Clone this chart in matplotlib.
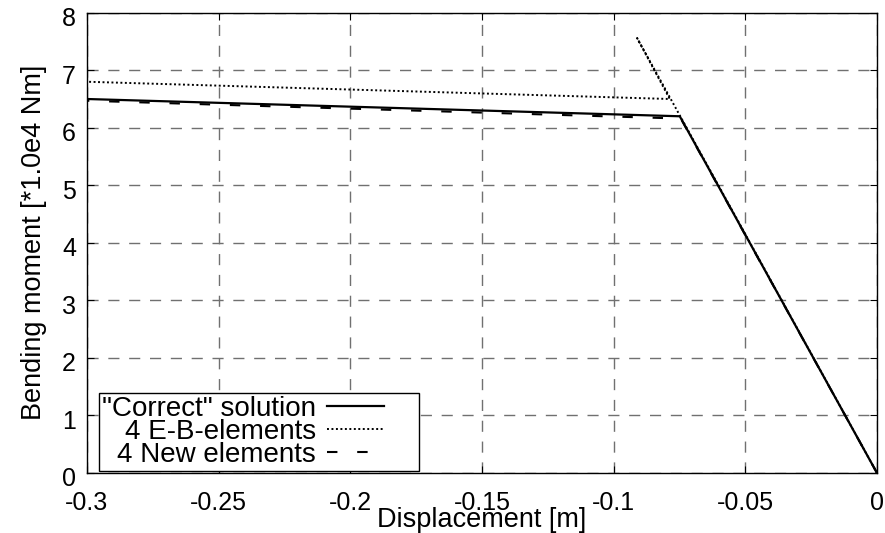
import numpy as np
import matplotlib.pyplot as plt
import matplotlib.transforms as mtransforms

# displacement [m] and bending moment [*1.0e4 Nm]
correct_x = [0.0, -0.0749, -0.3]
correct_y = [0.0, 6.2, 6.5]

eb_x = [0.0, -0.0911, -0.0787, -0.3]
eb_y = [0.0, 7.56, 6.5, 6.8]

new_x = [0.0, -0.0745, -0.3]
new_y = [0.0, 6.16, 6.47]

labels = ['"Correct" solution', '4 E-B-elements', '4 New elements']
x_ticks = [-0.3, -0.25, -0.2, -0.15, -0.1, -0.05, 0]
x_tick_labels = ['-0.3', '-0.25', '-0.2', '-0.15', '-0.1', '-0.05', '0']
y_ticks = [0, 1, 2, 3, 4, 5, 6, 7, 8]

plt.rcParams['font.family'] = ['Liberation Sans', 'DejaVu Sans']

fig = plt.figure(figsize=(8.85, 5.33), dpi=100)
ax = fig.add_axes([87 / 885, (533 - 473) / 533, 790 / 885, 460.3 / 533])

ax.plot(correct_x, correct_y, color='black', lw=1.6, label=labels[0], zorder=3)
ax.plot(eb_x, eb_y, color='black', lw=1.4, linestyle=(0, (1, 1.3)), label=labels[1], zorder=3)
ax.plot(new_x, new_y, color='black', lw=1.5, linestyle=(0, (5, 9.5)), label=labels[2], zorder=3)

ax.set_xlim(-0.3, 0)
ax.set_ylim(0, 8)
ax.set_xticks(x_ticks)
ax.set_xticklabels(x_tick_labels)
ax.set_yticks(y_ticks)
ax.grid(True, color='#707070', linestyle=(0, (8, 7)), lw=1)
ax.tick_params(direction='in', top=True, right=True, labelsize=18, length=5)
ax.tick_params(axis='x', pad=13)
ax.tick_params(axis='y', pad=8)
# y labels sit a little below their ticks in the original
shift = mtransforms.ScaledTranslation(0, -4 / 100, fig.dpi_scale_trans)
for lab in ax.get_yticklabels():
    lab.set_transform(lab.get_transform() + shift)
for s in ax.spines.values():
    s.set_linewidth(1)

ax.set_xlabel('Displacement [m]', fontsize=19.5, labelpad=-6)
ax.set_ylabel('Bending moment [*1.0e4 Nm]', fontsize=19.5, labelpad=11)

leg = ax.legend(loc='lower left', bbox_to_anchor=(12 / 790, 2 / 460, 320 / 790, 0.1),
                mode='expand', markerfirst=False, fontsize=20, frameon=True,
                fancybox=False, framealpha=1, edgecolor='black', borderpad=0.1,
                labelspacing=-0.1, handlelength=2.05, handletextpad=0.4,
                borderaxespad=0)
leg.get_frame().set_linewidth(1)
leg.set_zorder(5)

fig.savefig('out.png', dpi=100)
